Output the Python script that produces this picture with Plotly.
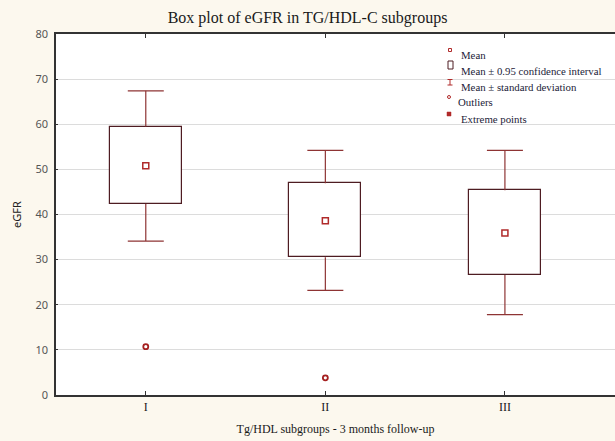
import plotly.graph_objects as go

# ---- data ----
categories = ["I", "II", "III"]
means = [50.8, 38.6, 35.9]
ci_low = [42.3, 30.5, 26.6]
ci_high = [59.5, 46.9, 45.4]
sd_low = [34.1, 23.2, 17.8]
sd_high = [67.4, 54.2, 54.2]
outlier_cats = ["I", "II"]
outlier_vals = [10.7, 3.8]
y_ticks = [0, 10, 20, 30, 40, 50, 60, 70, 80]

BOX_C = "#4e1c22"
WHISK_C = "#8e3434"
MEAN_C = "#b02a2a"
BG = "#fcf8ee"

pos = {c: i + 1 for i, c in enumerate(categories)}
xs = [pos[c] for c in categories]

fig = go.Figure()

# confidence-interval boxes
fig.add_trace(go.Bar(
    x=xs,
    base=ci_low,
    y=[h - l for h, l in zip(ci_high, ci_low)],
    width=0.4,
    marker=dict(color="white", line=dict(color=BOX_C, width=1.2)),
    hoverinfo="skip", showlegend=False,
))

# whisker stems: from box edges to mean +/- sd
fig.add_trace(go.Scatter(
    x=xs, y=ci_high, mode="markers",
    marker=dict(size=1, color="rgba(0,0,0,0)"),
    error_y=dict(type="data", symmetric=False,
                 array=[s - c for s, c in zip(sd_high, ci_high)], arrayminus=[0, 0, 0],
                 color=WHISK_C, thickness=1.2, width=0),
    showlegend=False, hoverinfo="skip",
))
fig.add_trace(go.Scatter(
    x=xs, y=ci_low, mode="markers",
    marker=dict(size=1, color="rgba(0,0,0,0)"),
    error_y=dict(type="data", symmetric=False,
                 array=[0, 0, 0], arrayminus=[c - s for c, s in zip(ci_low, sd_low)],
                 color=WHISK_C, thickness=1.2, width=0),
    showlegend=False, hoverinfo="skip",
))

# whisker caps (zero-length error bars at the whisker ends)
fig.add_trace(go.Scatter(
    x=xs + xs, y=sd_high + sd_low, mode="markers",
    marker=dict(size=1, color="rgba(0,0,0,0)"),
    error_y=dict(type="constant", value=0, color=WHISK_C, thickness=1.2, width=18),
    showlegend=False, hoverinfo="skip",
))

# means
fig.add_trace(go.Scatter(
    x=xs, y=means, mode="markers",
    marker=dict(symbol="square-open", size=6, color=MEAN_C, line=dict(width=1.5, color=MEAN_C)),
    showlegend=False,
))

# outliers
fig.add_trace(go.Scatter(
    x=[pos[c] for c in outlier_cats], y=outlier_vals, mode="markers",
    marker=dict(symbol="circle-open", size=5, color="#a52020", line=dict(width=1.8, color="#a52020")),
    showlegend=False,
))

# ---- custom legend (paper coordinates of plot area) ----
L, R, T, B = 56, 615, 34, 395
def px(x):
    return (x - L) / (R - L)
def py(y):
    return (B - y) / (B - T)

shapes = []
annotations = []
leg_font = dict(family="Liberation Serif", size=10.8, color="#1b1b38")
items = [
    ("Mean", 55, 459),
    ("Mean \u00b1 0.95 confidence interval", 71, 459),
    ("Mean \u00b1 standard deviation", 87, 459),
    ("Outliers", 102, 456),
    ("Extreme points", 119, 459),
]
for text, yc, xt in items:
    annotations.append(dict(x=px(xt), y=py(yc), xref="paper", yref="paper",
                            text=text, showarrow=False, xanchor="left", yanchor="middle",
                            font=leg_font))
shapes.append(dict(type="rect", xref="paper", yref="paper",
                   x0=px(448.5), x1=px(451.5), y0=py(51.5), y1=py(48.5),
                   line=dict(color=MEAN_C, width=1), fillcolor="white"))
shapes.append(dict(type="rect", xref="paper", yref="paper",
                   x0=px(448), x1=px(453), y0=py(69), y1=py(61),
                   line=dict(color=BOX_C, width=1), fillcolor="white"))
for (x0, y0, x1, y1) in [(450, 79.5, 450, 85), (447.5, 79.5, 452.5, 79.5), (447.5, 85, 452.5, 85)]:
    shapes.append(dict(type="line", xref="paper", yref="paper",
                       x0=px(x0), y0=py(y0), x1=px(x1), y1=py(y1),
                       line=dict(color=MEAN_C, width=1)))
shapes.append(dict(type="circle", xref="paper", yref="paper",
                   x0=px(447.5), x1=px(450.5), y0=py(98.5), y1=py(95.5),
                   line=dict(color=MEAN_C, width=1)))
shapes.append(dict(type="rect", xref="paper", yref="paper",
                   x0=px(447), x1=px(451), y0=py(116), y1=py(112),
                   line=dict(color=MEAN_C, width=0.5), fillcolor=MEAN_C))

fig.update_layout(
    width=615, height=441,
    margin=dict(l=56, r=0, t=34, b=46),
    paper_bgcolor=BG, plot_bgcolor="white",
    title=dict(text="Box plot of eGFR in TG/HDL-C subgroups", x=0.5, xanchor="center",
               y=1 - 17 / 441, yanchor="middle",
               font=dict(family="Liberation Serif", size=16, color="#1a1a1a")),
    showlegend=False,
    bargap=0,
    shapes=shapes,
    annotations=annotations,
    xaxis=dict(
        range=[0.5, 3.613], tickvals=xs, ticktext=categories,
        showline=True, linecolor="#333333", linewidth=1.5, mirror="ticks",
        ticks="inside", ticklen=4, tickcolor="#333333",
        showgrid=False, zeroline=False,
        tickfont=dict(family="Liberation Serif", size=12, color="#1a1a1a"),
        title=dict(text="Tg/HDL subgroups - 3 months follow-up", standoff=11,
                   font=dict(family="Liberation Serif", size=12, color="#1a1a1a")),
    ),
    yaxis=dict(
        range=[0, 80], tickvals=y_ticks, mirror=False,
        showline=True, linecolor="#333333", linewidth=1.5,
        ticks="inside", ticklen=2, tickcolor="#333333",
        showgrid=True, gridcolor="#dcdcdc", gridwidth=1, zeroline=False,
        ticklabelstandoff=4,
        tickfont=dict(family="Noto Sans", size=11, color="#555555"),
        title=dict(text="eGFR", standoff=12,
                   font=dict(family="Noto Sans", size=11, color="#222222")),
    ),
)

fig.write_html("out.html")
